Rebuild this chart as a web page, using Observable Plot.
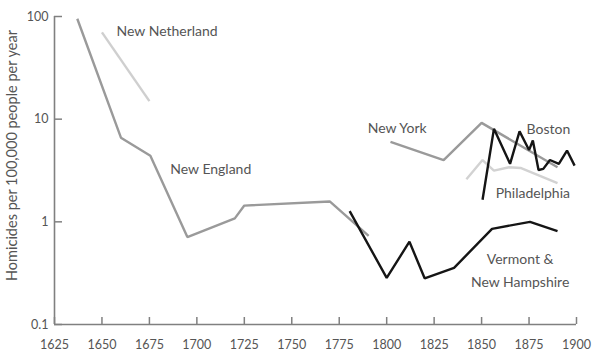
<!DOCTYPE html>
<html>
<head>
<meta charset="utf-8">
<script src="https://cdn.jsdelivr.net/npm/d3@7"></script>
<script src="https://cdn.jsdelivr.net/npm/@observablehq/plot@0.6"></script>
<style>
  html, body { margin: 0; padding: 0; background: #fff; }
  #chart { width: 600px; height: 360px; }
</style>
</head>
<body>
<div id="chart"></div>
<script>
// Homicide rates (per 100,000 people per year)
const newNetherland = [[1650, 70], [1675, 15]];
const newEngland = [[1637, 95], [1660, 6.6], [1675.5, 4.4], [1695, 0.71], [1720, 1.08], [1725, 1.44], [1770, 1.58], [1790.5, 0.73]];
const newYork = [[1802, 6.0], [1830, 4.0], [1850, 9.2], [1890, 3.4]];
const philadelphia = [[1842, 2.6], [1850.5, 4.0], [1856.5, 3.15], [1864.5, 3.4], [1870.5, 3.35], [1890, 2.38]];
const boston = [[1850.5, 1.64], [1856.5, 8.05], [1865, 3.67], [1870, 7.6], [1875, 5.0], [1877, 6.2], [1880, 3.2], [1882.5, 3.28], [1886, 4.0], [1890.7, 3.67], [1895, 4.95], [1899, 3.53]];
const vermontNH = [[1780.5, 1.27], [1800, 0.285], [1812, 0.64], [1820, 0.282], [1835.5, 0.356], [1855.5, 0.855], [1875.5, 1.0], [1890, 0.81]];

const yTicks = [0.1, 1, 10, 100];
const xTicks = [1625, 1650, 1675, 1700, 1725, 1750, 1775, 1800, 1825, 1850, 1875, 1900];
const yTitle = "Homicides per 100,000 people per year";

const startLabels = [
  {text: "New Netherland", year: 1657.7, value: 72},
  {text: "New England", year: 1686, value: 3.2},
  {text: "New York", year: 1790, value: 8.1},
  {text: "Boston", year: 1873.7, value: 7.9},
  {text: "Philadelphia", year: 1857.4, value: 1.9}
];
const middleLabels = [
  {text: "Vermont &\nNew Hampshire", year: 1870.3, value: 0.355}
];

const series = [
  {data: newNetherland, color: "#cfcfcf"},
  {data: newEngland, color: "#9a9a9a"},
  {data: newYork, color: "#9a9a9a"},
  {data: philadelphia, color: "#d2d2d2"},
  {data: vermontNH, color: "#151515"},
  {data: boston, color: "#151515"}
];

const axisColor = "#808080";
const font = "Lato, 'Open Sans', sans-serif";

const plot = Plot.plot({
  width: 600,
  height: 360,
  marginLeft: 54,
  marginRight: 24,
  marginTop: 16,
  marginBottom: 36,
  style: {fontFamily: font, background: "#fff"},
  x: {domain: [1625, 1900]},
  y: {type: "log", domain: [0.1, 100]},
  marks: [
    Plot.ruleX([1625], {y1: 0.1, y2: 100, stroke: axisColor, strokeWidth: 1.6}),
    Plot.ruleY([0.1], {x1: 1625, x2: 1900, stroke: axisColor, strokeWidth: 1.6}),
    Plot.axisY(yTicks, {tickSize: -8, tickPadding: 14, stroke: axisColor, strokeWidth: 1.5, fill: "#555", fontSize: 12.5, label: null, tickFormat: d => String(d)}),
    Plot.axisX(xTicks, {tickSize: -7, tickPadding: 23, stroke: axisColor, strokeWidth: 1.5, fill: "#555", fontSize: 12.5, label: null, tickFormat: d => String(d)}),
    Plot.text([yTitle], {frameAnchor: "left", textAnchor: "middle", dx: -42, dy: -15, rotate: -90, fill: "#555", fontSize: 14.5}),
    ...series.map(s => Plot.line(s.data, {x: d => d[0], y: d => d[1], stroke: s.color, strokeWidth: 2.4, strokeLinejoin: "miter", strokeLinecap: "butt"})),
    Plot.text(startLabels, {x: "year", y: "value", text: "text", textAnchor: "start", fill: "#555", fontSize: 14}),
    Plot.text(middleLabels, {x: "year", y: "value", text: "text", textAnchor: "middle", fill: "#555", fontSize: 14, lineHeight: 1.65})
  ]
});
document.getElementById("chart").appendChild(plot);
</script>
</body>
</html>
